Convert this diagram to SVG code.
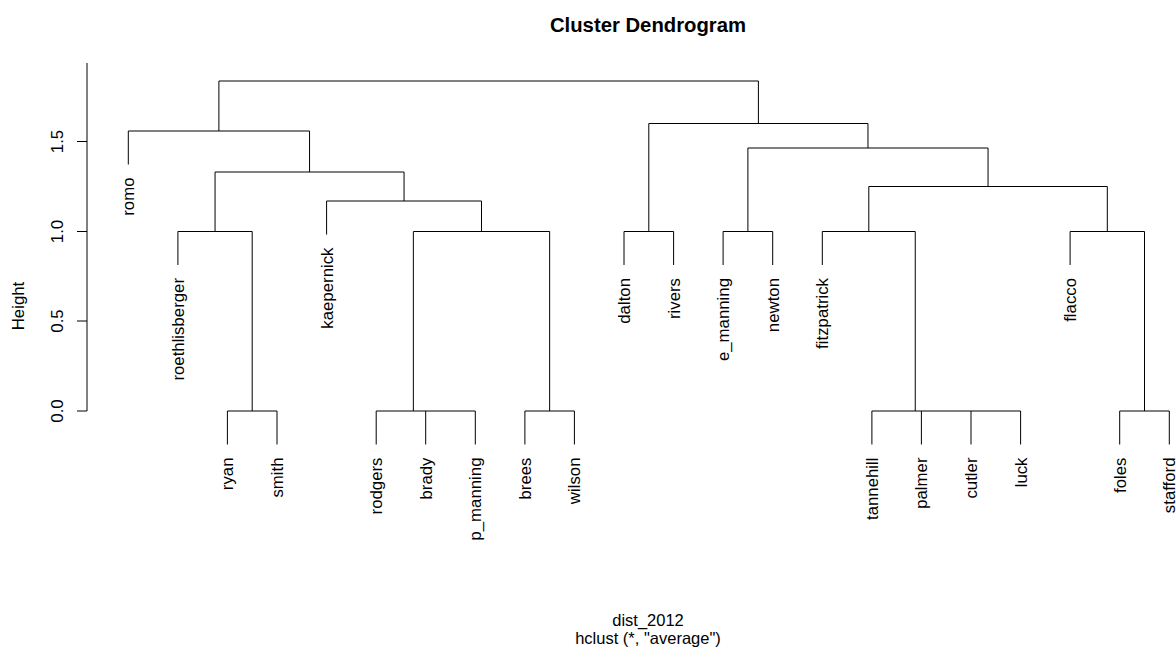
<svg xmlns="http://www.w3.org/2000/svg" width="1176" height="650" viewBox="0 0 1176 650">
<style>
text{font-family:"Liberation Sans",Arial,sans-serif;font-size:16.8px;fill:#000}
.lbl{text-anchor:end}
.tick{text-anchor:middle}
.title{font-size:20.3px;font-weight:bold;text-anchor:middle}
.sub{text-anchor:middle;font-size:16.5px}
.ln{fill:none;stroke:#000;stroke-width:1}
</style>
<rect width="1176" height="650" fill="#fff"/>
<text class="title" x="648" y="31.5">Cluster Dendrogram</text>
<g id="axis">
<path class="ln" d="M87,63V411M77,411H87M77,321H87M77,231.5H87M77,141.5H87"/>
<text class="tick" transform="translate(63,411) rotate(-90)">0.0</text>
<text class="tick" transform="translate(63,321) rotate(-90)">0.5</text>
<text class="tick" transform="translate(63,231.5) rotate(-90)">1.0</text>
<text class="tick" transform="translate(63,141.5) rotate(-90)">1.5</text>
<text class="tick" transform="translate(23.5,306) rotate(-90)">Height</text>
</g>
<g id="connectors">
<path class="ln" d="M218.9,131V81H758.4V123.5"/>
<path class="ln" d="M128.3,164.5V131H309.55V172"/>
<path class="ln" d="M215.05,231.5V172H404.05V201"/>
<path class="ln" d="M177.9,265V231.5H252.2V411"/>
<path class="ln" d="M227.4,444.5V411H277V444.5"/>
<path class="ln" d="M326.6,234.5V201H481.5V231.5"/>
<path class="ln" d="M413.35,411V231.5H549.65V411"/>
<path class="ln" d="M376.2,444.5V411H475.3V444.5M425.7,411V444.5"/>
<path class="ln" d="M524.9,444.5V411H574.4V444.5"/>
<path class="ln" d="M648.8,231.5V123.5H867.98V148"/>
<path class="ln" d="M624,265V231.5H673.6V265"/>
<path class="ln" d="M747.9,231.5V148H988.05V186.5"/>
<path class="ln" d="M723.1,265V231.5H772.7V265"/>
<path class="ln" d="M868.8,231.5V186.5H1107.3V231.5"/>
<path class="ln" d="M822.3,265V231.5H915.25V411"/>
<path class="ln" d="M871.9,444.5V411H1020.6V444.5M921.4,411V444.5M971,411V444.5"/>
<path class="ln" d="M1070.1,265V231.5H1144.5V411"/>
<path class="ln" d="M1119.7,444.5V411H1169.3V444.5"/>
</g>
<g id="leaf-romo"><text class="lbl" transform="translate(134.3,177.5) rotate(-90)">romo</text></g>
<g id="leaf-roethlisberger"><text class="lbl" transform="translate(183.9,278) rotate(-90)">roethlisberger</text></g>
<g id="leaf-ryan"><text class="lbl" transform="translate(233.4,457.5) rotate(-90)">ryan</text></g>
<g id="leaf-smith"><text class="lbl" transform="translate(283,457.5) rotate(-90)">smith</text></g>
<g id="leaf-kaepernick"><text class="lbl" transform="translate(332.6,247.5) rotate(-90)">kaepernick</text></g>
<g id="leaf-rodgers"><text class="lbl" transform="translate(382.2,457.5) rotate(-90)">rodgers</text></g>
<g id="leaf-brady"><text class="lbl" transform="translate(431.7,457.5) rotate(-90)">brady</text></g>
<g id="leaf-p_manning"><text class="lbl" transform="translate(481.3,457.5) rotate(-90)">p_manning</text></g>
<g id="leaf-brees"><text class="lbl" transform="translate(530.9,457.5) rotate(-90)">brees</text></g>
<g id="leaf-wilson"><text class="lbl" transform="translate(580.4,457.5) rotate(-90)">wilson</text></g>
<g id="leaf-dalton"><text class="lbl" transform="translate(630,278) rotate(-90)">dalton</text></g>
<g id="leaf-rivers"><text class="lbl" transform="translate(679.6,278) rotate(-90)">rivers</text></g>
<g id="leaf-e_manning"><text class="lbl" transform="translate(729.1,278) rotate(-90)">e_manning</text></g>
<g id="leaf-newton"><text class="lbl" transform="translate(778.7,278) rotate(-90)">newton</text></g>
<g id="leaf-fitzpatrick"><text class="lbl" transform="translate(828.3,278) rotate(-90)">fitzpatrick</text></g>
<g id="leaf-tannehill"><text class="lbl" transform="translate(877.9,457.5) rotate(-90)">tannehill</text></g>
<g id="leaf-palmer"><text class="lbl" transform="translate(927.4,457.5) rotate(-90)">palmer</text></g>
<g id="leaf-cutler"><text class="lbl" transform="translate(977,457.5) rotate(-90)">cutler</text></g>
<g id="leaf-luck"><text class="lbl" transform="translate(1026.6,457.5) rotate(-90)">luck</text></g>
<g id="leaf-flacco"><text class="lbl" transform="translate(1076.1,278) rotate(-90)">flacco</text></g>
<g id="leaf-foles"><text class="lbl" transform="translate(1125.7,457.5) rotate(-90)">foles</text></g>
<g id="leaf-stafford"><text class="lbl" transform="translate(1175,457.5) rotate(-90)">stafford</text></g>
<text class="sub" x="648" y="626">dist_2012</text>
<text class="sub" x="648" y="643.5">hclust (*, "average")</text>
</svg>
